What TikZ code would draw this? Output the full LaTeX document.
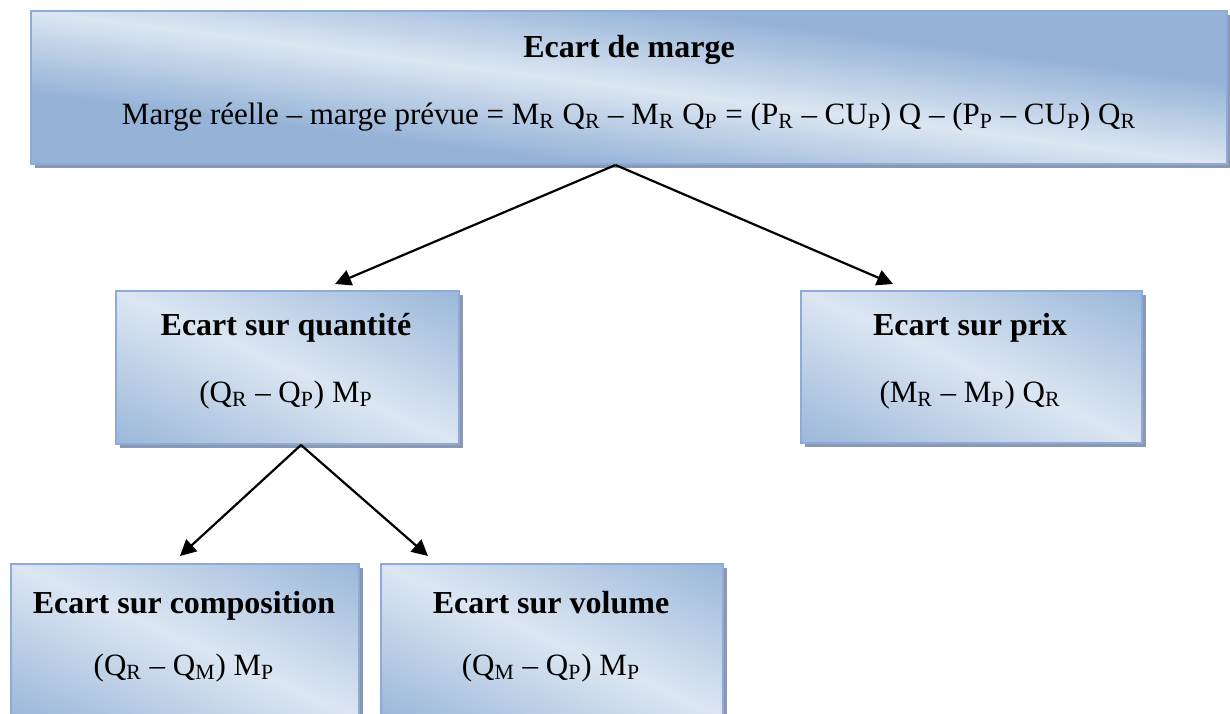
\documentclass[tikz,border=0pt]{standalone}
\usepackage{fontspec}
\setmainfont{Liberation Serif}
\usetikzlibrary{arrows.meta,shadows}

\definecolor{bleufonce}{HTML}{95B3D7}
\definecolor{bleuclair}{HTML}{DCE6F2}
\definecolor{bordbleu}{HTML}{8EAADB}
\definecolor{ombre}{HTML}{8D99AA}

% reflet en diagonale
\pgfdeclareverticalshading{refletlarge}{100bp}{color(0bp)=(bleufonce); color(35bp)=(bleufonce); color(50bp)=(bleuclair); color(65bp)=(bleufonce); color(100bp)=(bleufonce)}
\pgfdeclareverticalshading{reflet}{100bp}{color(0bp)=(bleufonce); color(14bp)=(bleufonce); color(50bp)=(bleuclair); color(86bp)=(bleufonce); color(100bp)=(bleufonce)}

\tikzset{
  boite/.style={draw=bordbleu, line width=1pt, inner sep=0pt, anchor=north west,
    shade, shading=reflet, shading angle=-24,
    drop shadow={fill=ombre, opacity=1, shadow xshift=2pt, shadow yshift=-2pt}},
  titre/.style={font=\fontsize{16}{19}\selectfont\bfseries, anchor=base},
  formule/.style={font=\fontsize{15.5}{18}\selectfont, anchor=base},
  fleche/.style={-{Triangle[length=8pt,width=8pt]}, line width=1.1pt}
}

\begin{document}
\begin{tikzpicture}[x=0.5pt,y=-0.5pt]
	\begin{scope}
\clip (0,0) rectangle (1230,713);
\fill[white] (0,0) rectangle (1230,713);

% les boites
\node[boite, shading=refletlarge, shading angle=-7.3, minimum width=598pt, minimum height=76.5pt] (marge) at (30,10) {};
\node[boite, minimum width=171.5pt, minimum height=76.5pt] (quant) at (115,290) {};
\node[boite, minimum width=170.5pt, minimum height=76pt] (prix) at (800,290) {};
\node[boite, minimum width=174pt, minimum height=76.5pt] (compo) at (10,563) {};
\node[boite, minimum width=171pt, minimum height=76.5pt] (vol) at (380,563) {};

% les textes
\node[titre] (margeT) at (629,57) {Ecart de marge};
\node[formule] (margeF) at (629,124) {Marge réelle -- marge prévue = M\textsubscript{R} Q\textsubscript{R} -- M\textsubscript{R} Q\textsubscript{P} = (P\textsubscript{R} -- CU\textsubscript{P}) Q -- (P\textsubscript{P} -- CU\textsubscript{P}) Q\textsubscript{R}};

\node[titre] (quantT) at (286,335) {Ecart sur quantité};
\node[formule] (quantF) at (286,402) {(Q\textsubscript{R} -- Q\textsubscript{P}) M\textsubscript{P}};

\node[titre] (prixT) at (970,335) {Ecart sur prix};
\node[formule] (prixF) at (970,402) {(M\textsubscript{R} -- M\textsubscript{P}) Q\textsubscript{R}};

\node[titre] (compoT) at (184,613) {Ecart sur composition};
\node[formule] (compoF) at (184,675) {(Q\textsubscript{R} -- Q\textsubscript{M}) M\textsubscript{P}};

\node[titre] (volT) at (551,613) {Ecart sur volume};
\node[formule] (volF) at (551,675) {(Q\textsubscript{M} -- Q\textsubscript{P}) M\textsubscript{P}};

% les fleches
\coordinate (pointeQ) at (335,284);
\coordinate (pointeP) at (893,284);
\coordinate (pointeC) at (180,556);
\coordinate (pointeV) at (428,556);

\draw[fleche] ([xshift=-6.75pt]marge.south) -- (pointeQ);
\draw[fleche] ([xshift=-6.75pt]marge.south) -- (pointeP);
\draw[fleche] ([xshift=6.75pt]quant.south) -- (pointeC);
\draw[fleche] ([xshift=6.75pt]quant.south) -- (pointeV);

	\end{scope}
\end{tikzpicture}
\end{document}
